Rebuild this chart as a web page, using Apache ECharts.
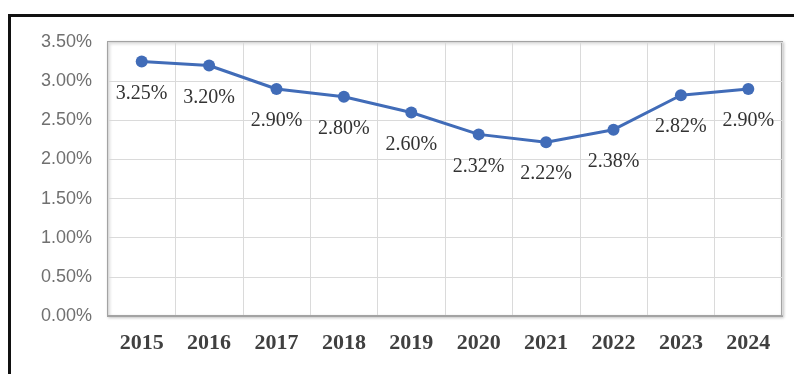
<!DOCTYPE html>
<html>
<head>
<meta charset="utf-8">
<script src="https://cdn.jsdelivr.net/npm/echarts@6/dist/echarts.min.js"></script>
<style>
  html, body { margin: 0; padding: 0; background: #ffffff; }
  #chart { width: 794px; height: 374px; }
</style>
</head>
<body>
<div id="chart"></div>
<script>
// Yearly rate, in percent
const years = ['2015', '2016', '2017', '2018', '2019', '2020', '2021', '2022', '2023', '2024'];
const rates = [3.25, 3.20, 2.90, 2.80, 2.60, 2.32, 2.22, 2.38, 2.82, 2.90];
const yMin = 0;
const yMax = 3.5;
const yStep = 0.5;

const chart = echarts.init(document.getElementById('chart'), null, { renderer: 'canvas' });

const pct = v => v.toFixed(2) + '%';

chart.setOption({
  animation: false,
  backgroundColor: '#ffffff',
  graphic: [
    {
      // outer black frame (top and left edges)
      type: 'polyline',
      shape: { points: [[9.5, 374], [9.5, 15.5], [794, 15.5]] },
      style: { stroke: '#111111', lineWidth: 3, fill: null },
      z: 10
    }
  ],
  grid: {
    left: 108,
    top: 42,
    width: 674,
    height: 274,
    show: true,
    backgroundColor: '#ffffff',
    borderColor: '#a3a3a3',
    borderWidth: 2,
    shadowColor: 'rgba(0,0,0,0.18)',
    shadowBlur: 3,
    shadowOffsetX: 1,
    shadowOffsetY: 1
  },
  xAxis: {
    type: 'category',
    data: years,
    boundaryGap: true,
    axisLine: { show: true, lineStyle: { color: '#a3a3a3', width: 2 } },
    axisTick: { show: false },
    splitLine: { show: true, lineStyle: { color: '#dadada', width: 1 } },
    axisLabel: {
      margin: 16,
      fontFamily: '"Liberation Serif", "DejaVu Serif", serif',
      fontWeight: 'bold',
      fontSize: 22,
      color: '#404040'
    }
  },
  yAxis: {
    type: 'value',
    min: yMin,
    max: yMax,
    interval: yStep,
    axisLine: { show: false },
    axisTick: { show: false },
    splitLine: { show: true, lineStyle: { color: '#dadada', width: 1 } },
    axisLabel: {
      margin: 16,
      formatter: pct,
      fontFamily: '"Liberation Sans", "DejaVu Sans", sans-serif',
      fontSize: 18,
      color: '#707070'
    }
  },
  series: [
    {
      type: 'line',
      data: rates,
      symbol: 'circle',
      symbolSize: 12,
      lineStyle: { color: '#416cb8', width: 3 },
      itemStyle: { color: '#416cb8' },
      label: {
        show: true,
        position: 'bottom',
        distance: 16,
        formatter: p => pct(p.value),
        fontFamily: '"Liberation Serif", "DejaVu Serif", serif',
        fontSize: 20,
        color: '#333333'
      }
    }
  ]
});
</script>
</body>
</html>
